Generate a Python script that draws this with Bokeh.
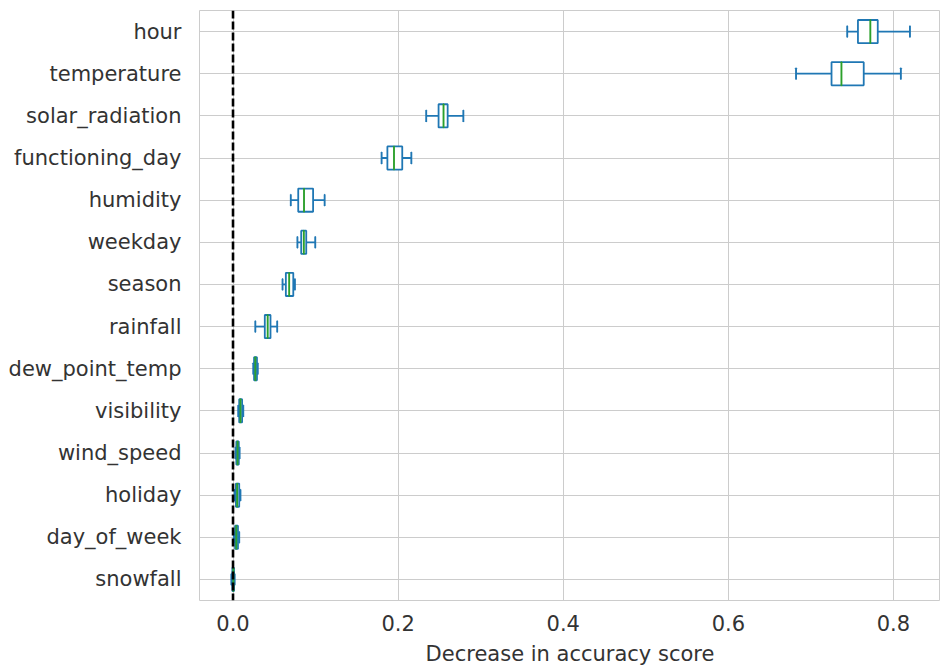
from bokeh.plotting import figure
from bokeh.models import ColumnDataSource, Span, FactorRange, Range1d, FixedTicker, NumeralTickFormatter
from bokeh.embed import file_html
from bokeh.resources import INLINE

features = ["hour", "temperature", "solar_radiation", "functioning_day", "humidity",
            "weekday", "season", "rainfall", "dew_point_temp", "visibility",
            "wind_speed", "holiday", "day_of_week", "snowfall"]
whisker_low = [0.744, 0.682, 0.234, 0.180, 0.070, 0.078, 0.060, 0.027, 0.0245, 0.0063, 0.0030, 0.0020, 0.0010, -0.0020]
q1 = [0.757, 0.725, 0.249, 0.187, 0.079, 0.0826, 0.064, 0.0385, 0.0255, 0.0075, 0.0040, 0.0035, 0.0025, -0.0008]
median = [0.772, 0.737, 0.255, 0.195, 0.086, 0.0858, 0.068, 0.042, 0.027, 0.009, 0.0055, 0.0050, 0.0040, 0.0004]
q3 = [0.781, 0.764, 0.260, 0.205, 0.097, 0.0887, 0.073, 0.0454, 0.0290, 0.0110, 0.0070, 0.0075, 0.0060, 0.0012]
whisker_high = [0.820, 0.809, 0.279, 0.216, 0.111, 0.0996, 0.075, 0.0535, 0.030, 0.0124, 0.0080, 0.0090, 0.0075, 0.0020]
x_ticks = [0.0, 0.2, 0.4, 0.6, 0.8]

BLUE = "#1f77b4"
GREEN = "#2ca02c"
TXT = "#333333"
GRID = "#cccccc"

src = ColumnDataSource(dict(f=features, wl=whisker_low, q1=q1, med=median, q3=q3, wh=whisker_high))

p = figure(y_range=FactorRange(*features[::-1]), x_range=Range1d(-0.0406, 0.857),
           frame_width=741, frame_height=590,
           min_border_left=199, min_border_right=0, min_border_top=10, min_border_bottom=67,
           output_backend="svg", toolbar_location=None)

p.background_fill_color = "white"
p.outline_line_color = GRID
p.outline_line_width = 1
p.xgrid.grid_line_color = GRID
p.ygrid.grid_line_color = GRID
p.xgrid.grid_line_width = 1
p.ygrid.grid_line_width = 1
p.xaxis.ticker = FixedTicker(ticks=x_ticks)
p.xaxis.formatter = NumeralTickFormatter(format="0.0")

for ax in (p.xaxis[0], p.yaxis[0]):
    ax.axis_line_color = None
    ax.major_tick_line_color = None
    ax.minor_tick_line_color = None
    ax.major_label_text_color = TXT
    ax.major_label_text_font = "DejaVu Sans"
p.yaxis.major_label_text_font_size = "21px"
p.xaxis.major_label_text_font_size = "21px"
p.yaxis.major_label_standoff = 12
p.xaxis.major_label_standoff = 8
p.xaxis.axis_label = "Decrease in accuracy score"
p.xaxis.axis_label_text_font = "DejaVu Sans"
p.xaxis.axis_label_text_font_style = "normal"
p.xaxis.axis_label_text_font_size = "21px"
p.xaxis.axis_label_text_color = TXT
p.xaxis.axis_label_standoff = 8

LW = 1.8
# whiskers
p.segment(x0="wl", x1="q1", y0="f", y1="f", source=src, line_color=BLUE, line_width=LW)
p.segment(x0="q3", x1="wh", y0="f", y1="f", source=src, line_color=BLUE, line_width=LW)
# caps
p.rect(x="wl", y="f", width=0.0001, height=0.26, source=src, fill_color=None, line_color=BLUE, line_width=LW)
p.rect(x="wh", y="f", width=0.0001, height=0.26, source=src, fill_color=None, line_color=BLUE, line_width=LW)
# box
p.hbar(y="f", left="q1", right="q3", height=0.55, source=src, fill_color="white",
       line_color=BLUE, line_width=LW)
# median
p.rect(x="med", y="f", width=0.0001, height=0.55, source=src, fill_color=None, line_color=GREEN, line_width=LW)

p.add_layout(Span(location=0, dimension="height", line_color="black", line_width=2.6, line_dash="8 3"))

open("out.html", "w").write(file_html(p, INLINE))
